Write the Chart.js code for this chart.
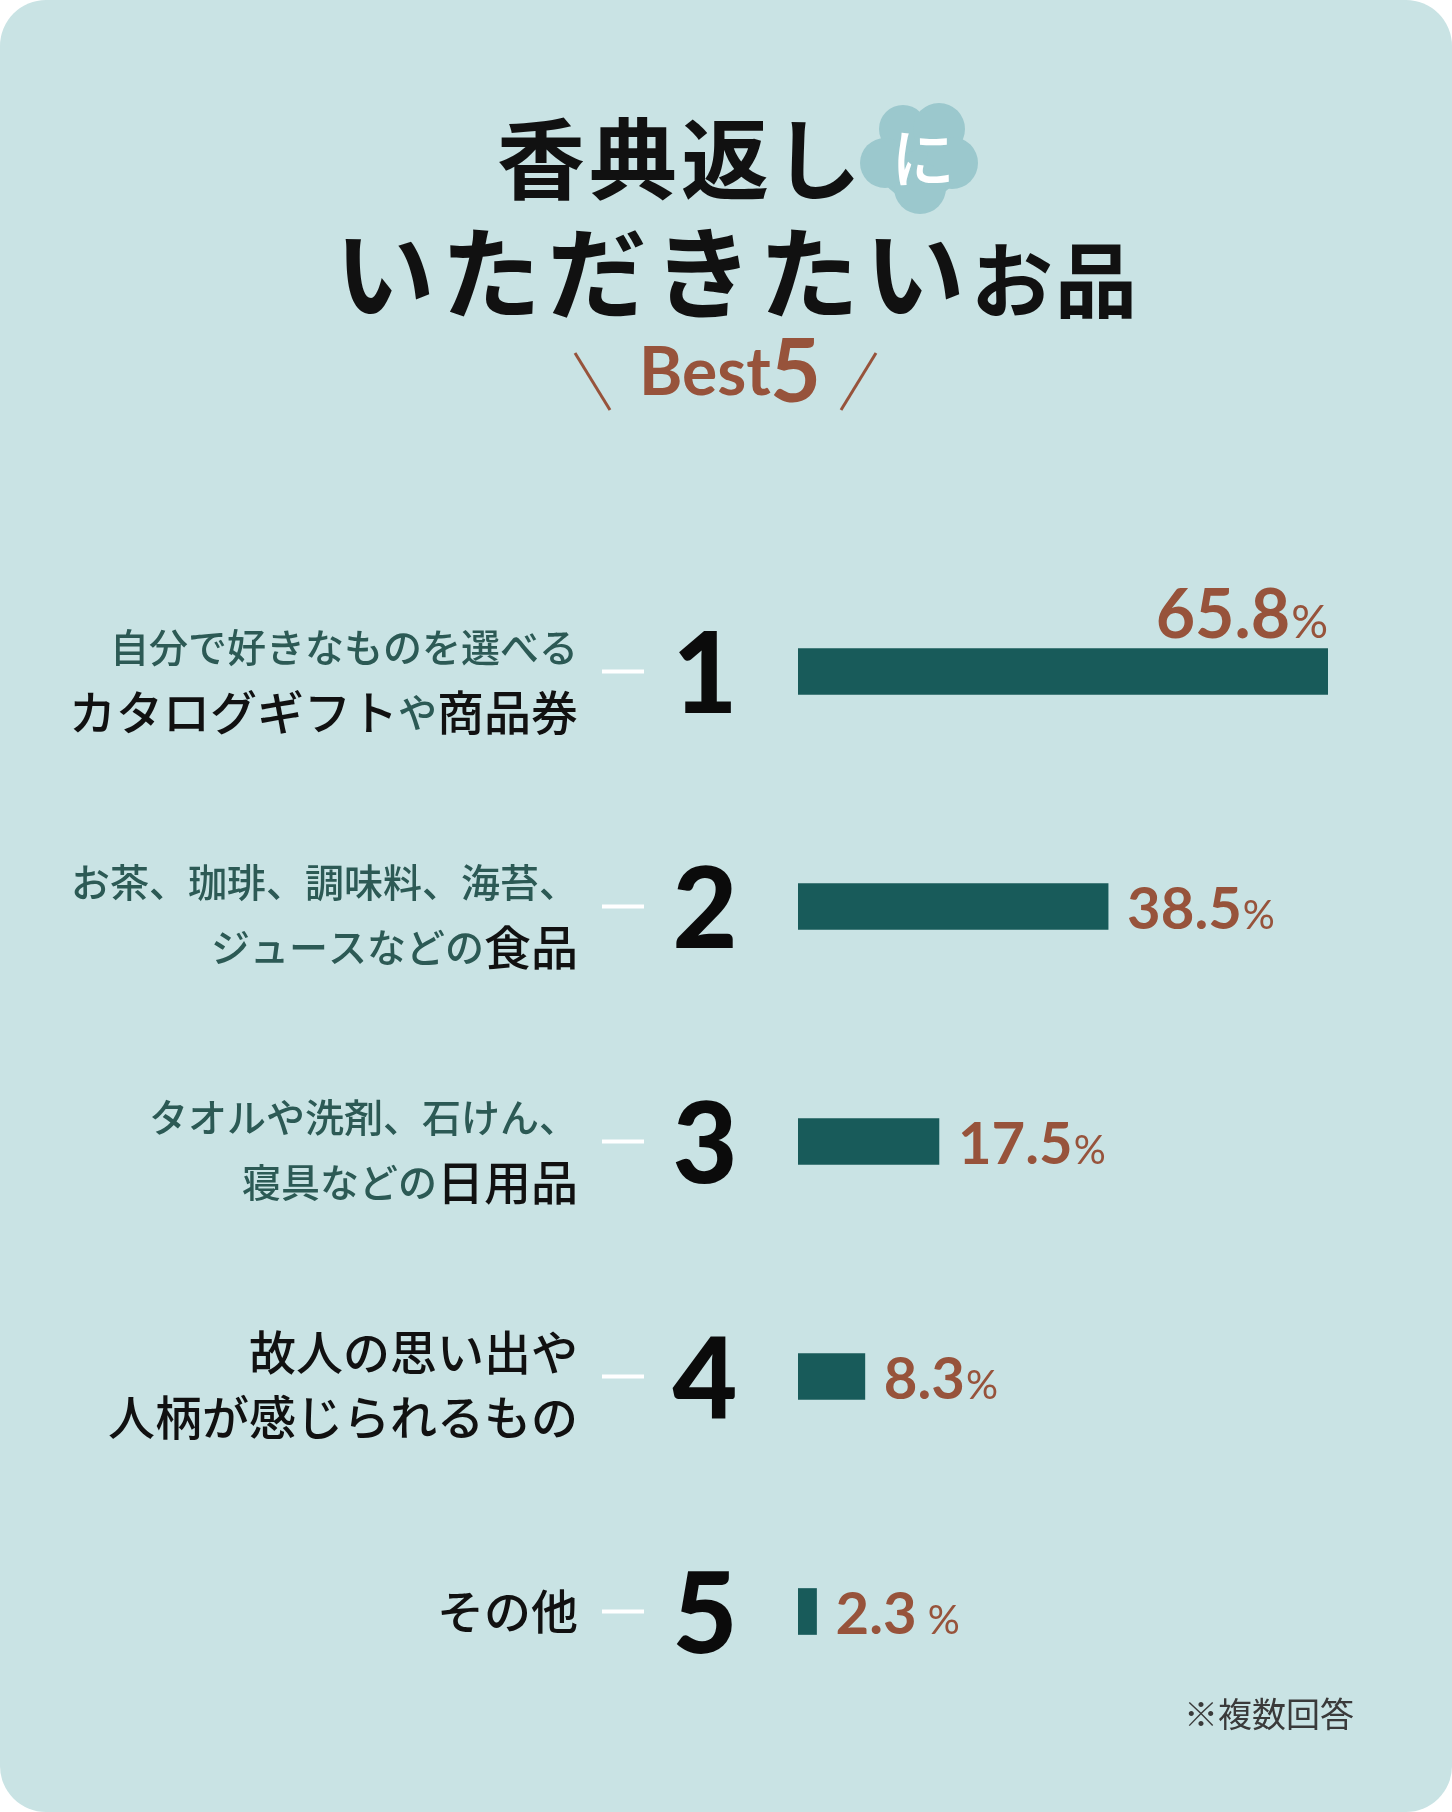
<!DOCTYPE html>
<html>
<head>
<meta charset="utf-8">
<title>香典返しにいただきたいお品 Best5</title>
<script src="https://cdn.jsdelivr.net/npm/chart.js@4.4.1/dist/chart.umd.min.js"></script>
<style>
    html, body { margin: 0; padding: 0; background: #fff; }
    #card { position: relative; width: 1452px; height: 1812px; background: #c9e3e4; border-radius: 46px; overflow: hidden; }
    #chart { position: absolute; left: 0; top: 0; }
    .title { position: absolute; font-family: "Noto Sans CJK JP", sans-serif; font-weight: 700; color: #111; white-space: nowrap; line-height: 1; }
    #line1 { left: 497px; top: 110px; font-size: 88px; letter-spacing: 4px; }
    #line2 { left: 335px; top: 218px; font-size: 100px; letter-spacing: 6px; }
    #line2 .small { font-size: 82px; letter-spacing: 2px; }
    #ni { position: absolute; left: 891px; top: 122px; font-family: "Noto Sans CJK JP", sans-serif; font-weight: 500;
          font-size: 64px; line-height: 1; color: #fff; }
    .best { position: absolute; font-family: Lato, sans-serif; font-weight: 700; color: #97533b; line-height: 1; }
    #best { left: 639px; top: 337px; font-size: 66px; }
    #five { left: 770px; top: 324px; font-size: 88px; }
    #deco { position: absolute; left: 0; top: 0; }
    #note { position: absolute; right: 98px; top: 1696px; font-family: "Noto Sans CJK JP", sans-serif; font-size: 34px;
            line-height: 1; color: #3a3a3a; }
</style>
</head>
<body>
<div id="card">
    <svg id="deco" width="1452" height="500">
        <g fill="#9bc8cd">
            <circle cx="919" cy="159" r="42"/>
            <circle cx="903" cy="129" r="24"/>
            <circle cx="939" cy="129" r="26"/>
            <circle cx="952" cy="163" r="26"/>
            <circle cx="920" cy="188" r="26"/>
            <circle cx="885" cy="163" r="25"/>
        </g>
        <line x1="575" y1="353" x2="610" y2="410" stroke="#97533b" stroke-width="3"/>
        <line x1="876" y1="353" x2="841" y2="410" stroke="#97533b" stroke-width="3"/>
    </svg>
    <div class="title" id="line1">香典返し</div>
    <div id="ni">に</div>
    <div class="title" id="line2">いただきたい<span class="small">お品</span></div>
    <div class="best" id="best">Best</div>
    <div class="best" id="five">5</div>
    <canvas id="chart" width="1452" height="1812"></canvas>
    <div id="note">※複数回答</div>
</div>

<script>
    // each category: lines of [text, emphasised] segments
    const categoryLines = [
        [[['自分で好きなものを選べる', 0]], [['カタログギフト', 1], ['や', 0], ['商品券', 1]]],
        [[['お茶、珈琲、調味料、海苔、', 0]], [['ジュースなどの', 0], ['食品', 1]]],
        [[['タオルや洗剤、石けん、', 0]], [['寝具などの', 0], ['日用品', 1]]],
        [[['故人の思い出や', 1]], [['人柄が感じられるもの', 1]]],
        [[['その他', 1]]]
    ];
    const ranks = ['1', '2', '3', '4', '5'];
    const values = [65.8, 38.5, 17.5, 8.3, 2.3];
    const valueUnits = ['%', '%', '%', '%', ' %'];

    const labels = categoryLines.map(lines => lines.map(l => l.map(s => s[0]).join('')).join(''));

    const barColor = '#185b5a';
    const teal = '#2c5a55';
    const brown = '#97533b';

    function labelFont(em) {
        return em ? '500 47px "Noto Sans CJK JP"' : '500 39px "Noto Sans CJK JP"';
    }

    const rankLabels = {
        id: 'rankLabels',
        afterDatasetsDraw(chart) {
            const ctx = chart.ctx;
            const xs = chart.scales.x, ys = chart.scales.y;
            const x0 = xs.getPixelForValue(0);
            ctx.save();
            values.forEach((v, i) => {
                const yc = ys.getPixelForValue(i);

                // category text, right aligned, two tone
                const lines = categoryLines[i];
                const offs = lines.length === 1 ? [0] : [-24, 41];
                ctx.textBaseline = 'middle';
                ctx.textAlign = 'left';
                lines.forEach((segs, li) => {
                    let w = 0;
                    segs.forEach(([t, em]) => { ctx.font = labelFont(em); w += ctx.measureText(t).width; });
                    let x = x0 - 220 - w;
                    segs.forEach(([t, em]) => {
                        ctx.font = labelFont(em);
                        ctx.fillStyle = em ? '#111' : teal;
                        ctx.fillText(t, x, yc + offs[li]);
                        x += ctx.measureText(t).width;
                    });
                });

                // little white dash
                ctx.fillStyle = '#fff';
                ctx.fillRect(x0 - 196, yc - 2, 42, 4);

                // rank number
                ctx.font = '900 112px Lato';
                ctx.fillStyle = '#0b0b0b';
                ctx.textAlign = 'center';
                ctx.textBaseline = 'alphabetic';
                ctx.fillText(ranks[i], x0 - 93, yc + 41);

                // value label
                const xe = xs.getPixelForValue(v);
                const num = v.toFixed(1);
                const unit = valueUnits[i];
                ctx.textAlign = 'left';
                ctx.fillStyle = brown;
                ctx.font = '700 58px Lato';
                let nw = ctx.measureText(num).width;
                ctx.font = '400 40px Lato';
                let uw = ctx.measureText(unit).width;
                if (xe + 20 + nw + uw + 4 <= chart.chartArea.right) {
                    ctx.font = '700 58px Lato';
                    ctx.fillText(num, xe + 19, yc + 22);
                    ctx.font = '400 40px Lato';
                    ctx.fillText(unit, xe + 19 + nw + 1, yc + 22);
                } else {
                    // no room on the right: put it above the bar end
                    ctx.font = '700 68px Lato';
                    nw = ctx.measureText(num).width;
                    ctx.font = '400 46px Lato';
                    uw = ctx.measureText(unit).width;
                    const base = yc - 34;
                    ctx.fillText(unit, xe - uw, base);
                    ctx.font = '700 68px Lato';
                    ctx.fillText(num, xe - uw - 1 - nw, base);
                }
            });
            ctx.restore();
        }
    };

    new Chart(document.getElementById('chart'), {
        type: 'bar',
        data: {
            labels: labels,
            datasets: [{ data: values, backgroundColor: barColor, barThickness: 46, borderWidth: 0 }]
        },
        options: {
            indexAxis: 'y',
            responsive: false,
            animation: false,
            devicePixelRatio: 1,
            layout: { padding: { left: 798, right: 124, top: 554, bottom: 83 } },
            scales: {
                x: { display: false, min: 0, max: 65.8 },
                y: { display: false }
            },
            plugins: { legend: { display: false }, tooltip: { enabled: false } }
        },
        plugins: [rankLabels]
    });
</script>
</body>
</html>
